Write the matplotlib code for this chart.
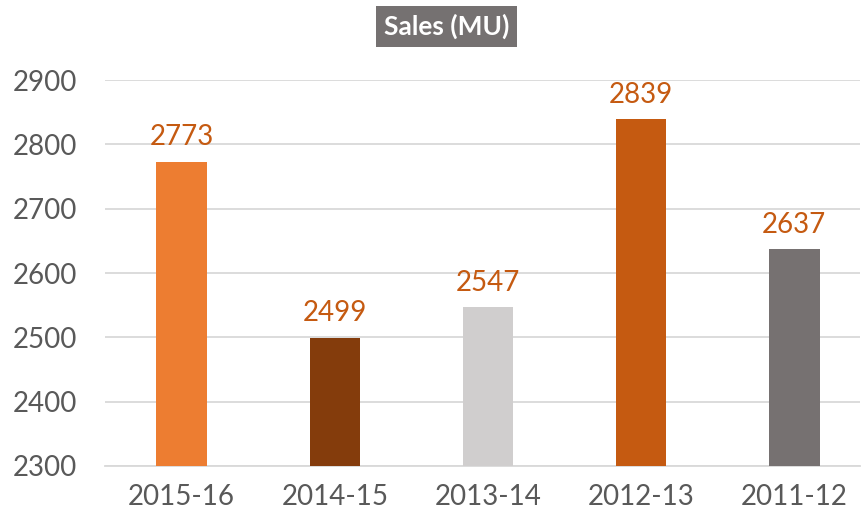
import matplotlib.pyplot as plt

plt.rcParams['font.family'] = ['Lato', 'DejaVu Sans']

years = ["2015-16", "2014-15", "2013-14", "2012-13", "2011-12"]
sales = [2773, 2499, 2547, 2839, 2637]
colors = ["#ED7D31", "#843C0C", "#D0CECE", "#C55A11", "#767171"]

fig = plt.figure(figsize=(8.61, 5.24), dpi=100)
ax = fig.add_axes([0.122, 0.111, 0.877, 0.736])

x = range(len(years))
bars = ax.bar(x, [s - 2300 for s in sales], bottom=2300, width=0.33, color=colors, zorder=3)
for xi, s in zip(x, sales):
    ax.text(xi, s + 18, str(s), ha='center', va='bottom', fontsize=20, color="#C55A11")

ax.set_ylim(2300, 2900)
ax.set_xlim(-0.5, 4.43)
ax.set_yticks(range(2300, 3000, 100))
ax.set_xticks(list(x))
ax.set_xticklabels(years)
ax.tick_params(axis='both', length=0, labelsize=20, labelcolor="#595959")
ax.tick_params(axis='x', pad=13)
ax.tick_params(axis='y', pad=20)
ax.yaxis.grid(True, color="#D9D9D9", linewidth=1.3, zorder=0)
for sp in ['top', 'right', 'left']:
    ax.spines[sp].set_visible(False)
ax.spines['bottom'].set_color("#D9D9D9")
ax.spines['bottom'].set_linewidth(1.3)

fig.text(0.519, 0.95, "Sales (MU)", ha='center', va='center', fontsize=19, fontweight='bold',
         color='white', bbox=dict(boxstyle='square,pad=0.3', facecolor="#757171", edgecolor='none'))

fig.savefig("out.png", dpi=100)
